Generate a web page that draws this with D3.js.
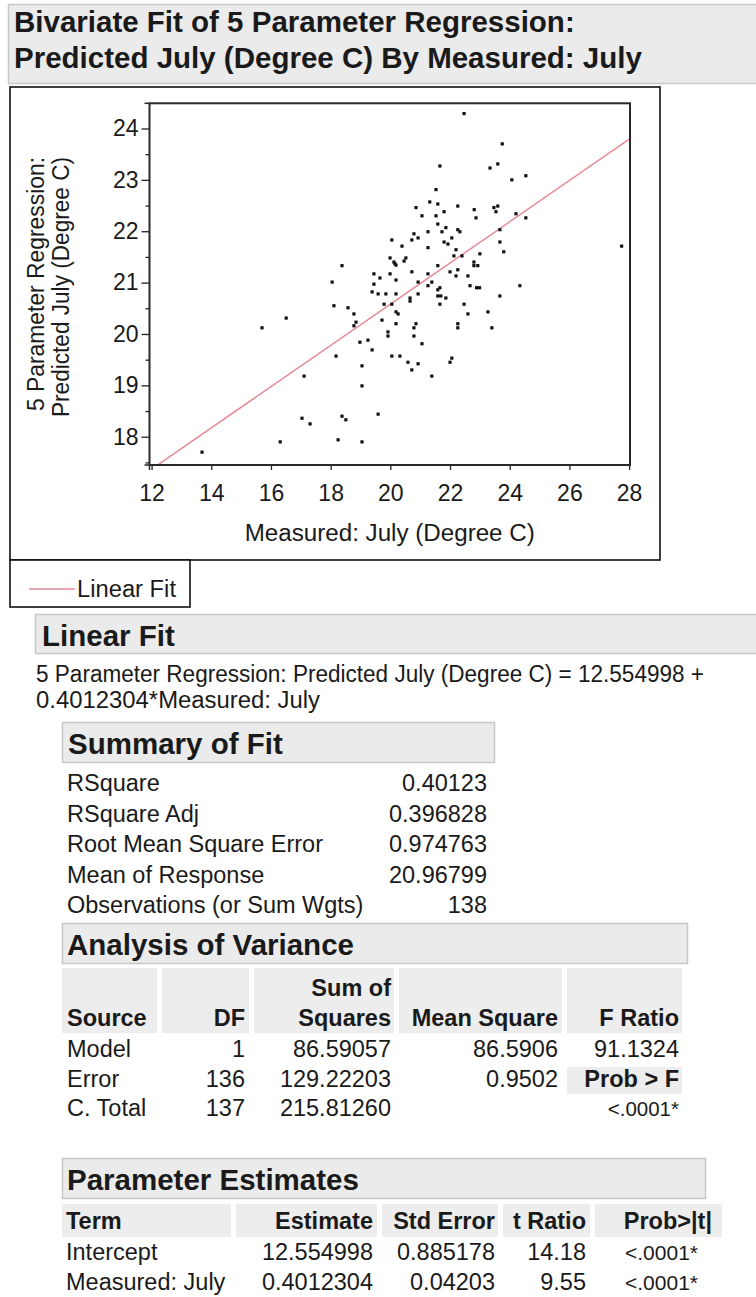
<!DOCTYPE html>
<html><head><meta charset="utf-8">
<script src="https://cdn.jsdelivr.net/npm/d3@7"></script>
<style>
body{margin:0;background:#fff}
svg{display:block}
text{font-family:"Liberation Sans",Arial,Helvetica,sans-serif}
</style>
</head><body>
<svg id="c" width="756" height="1297"></svg>
<script>
// ---------- data ----------
const measured = [22.47,23.75,21.66,23.34,23.60,24.07,24.54,21.53,20.86,21.32,
21.59,21.06,21.53,21.80,22.26,22.81,22.87,23.47,23.60,23.54,
24.21,24.54,21.59,21.86,21.73,22.26,22.33,21.26,20.79,20.93,
20.72,20.05,20.39,21.26,21.80,21.93,22.06,23.67,23.67,23.80,
22.20,22.13,22.40,23.00,27.75,19.99,20.52,20.12,20.19,20.46,
21.59,22.80,22.80,22.93,20.72,19.99,19.65,20.19,21.26,22.00,
22.26,22.20,22.60,20.93,21.39,21.26,21.66,21.59,22.67,22.89,
22.99,24.34,18.38,18.05,19.45,19.45,19.39,19.59,19.85,20.19,
20.66,20.66,20.93,21.59,21.69,21.86,23.67,19.79,20.05,21.66,
22.47,20.19,20.26,22.60,23.27,18.11,18.58,18.78,18.85,18.78,
19.72,20.19,19.92,19.92,20.86,20.79,20.79,22.26,22.26,23.40,
18.98,19.25,21.06,16.51,15.70,19.39,18.18,20.05,20.32,20.59,
20.93,20.72,21.39,22.06,22.00,19.05,19.05,17.11,17.04,17.31,
18.38,18.51,19.59,16.31,18.25,19.05,13.69,20.15];
const predicted = [24.29,23.70,23.27,23.23,23.31,23.00,23.08,22.81,22.46,22.57,
22.53,22.30,22.30,22.38,22.49,22.42,22.26,22.46,22.49,22.38,
22.34,22.26,22.14,22.07,21.99,22.03,21.99,21.99,21.95,21.87,
21.83,21.83,21.71,21.68,21.79,21.75,21.87,22.03,21.79,21.60,
21.64,21.52,21.52,21.56,21.71,21.48,21.48,21.40,21.34,21.42,
21.33,21.40,21.33,21.33,21.21,21.17,21.09,21.05,21.17,21.21,
21.25,21.13,21.13,21.01,21.01,20.94,20.90,20.86,20.94,20.90,
20.90,20.94,21.33,21.01,21.17,20.97,20.82,20.78,20.78,20.78,
20.70,20.64,20.78,20.74,20.74,20.70,20.74,20.58,20.58,20.58,
20.58,20.43,20.39,20.39,20.43,20.55,20.51,20.39,20.23,20.16,
20.27,20.20,20.04,19.96,20.20,20.12,19.96,20.20,20.12,20.12,
19.84,19.88,19.81,20.31,20.12,19.69,19.57,19.57,19.57,19.45,
19.42,19.30,19.18,19.53,19.45,19.38,18.99,19.18,18.36,18.25,
18.40,18.33,18.44,17.90,17.94,17.90,17.70,21.37];
const xTickValues = [12,14,16,18,20,22,24,26,28];
const yTickValues = [18,19,20,21,22,23,24];
const yMinorTickValues = [17.5,18.5,19.5,20.5,21.5,22.5,23.5];
const fitIntercept = 12.554998;
const fitSlope = 0.4012304;

const titleLines = ["Bivariate Fit of 5 Parameter Regression:", "Predicted July (Degree C) By Measured: July"];
const xAxisTitle = "Measured: July (Degree C)";
const yAxisTitleLines = ["5 Parameter Regression:", "Predicted July (Degree C)"];
const legendLabel = "Linear Fit";
const equationLines = ["5 Parameter Regression: Predicted July (Degree C) = 12.554998 +", "0.4012304*Measured: July"];

const summaryLabels = ["RSquare","RSquare Adj","Root Mean Square Error","Mean of Response","Observations (or Sum Wgts)"];
const summaryValues = ["0.40123","0.396828","0.974763","20.96799","138"];

const anovaHeaders = ["Source","DF","Squares","Mean Square","F Ratio"];
const anovaSource = ["Model","Error","C. Total"];
const anovaDF = ["1","136","137"];
const anovaSS = ["86.59057","129.22203","215.81260"];
const anovaMS = ["86.5906","0.9502",""];
const anovaF = ["91.1324","Prob > F","<.0001*"];

const paramHeaders = ["Term","Estimate","Std Error","t Ratio","Prob>|t|"];
const paramTerms = ["Intercept","Measured: July"];
const paramEstimate = ["12.554998","0.4012304"];
const paramStdErr = ["0.885178","0.04203"];
const paramT = ["14.18","9.55"];
const paramProb = ["<.0001*","<.0001*"];

// ---------- helpers ----------
const svg = d3.select("#c");
const INK = "#1a1a1a";
const REG = 23.5;
function txt(g, x, y, s, o = {}) {
  const t = g.append("text").attr("x", x).attr("y", y).text(s)
    .attr("font-size", o.size || REG)
    .attr("font-weight", o.bold ? "bold" : "normal")
    .attr("text-anchor", o.anchor || "start")
    .attr("fill", o.fill || INK);
  if (o.len) t.attr("textLength", o.len).attr("lengthAdjust", "spacingAndGlyphs");
  return t;
}
function box(x, y, w, h, fill, stroke, sw) {
  return svg.append("rect").attr("x", x).attr("y", y).attr("width", w).attr("height", h)
    .attr("fill", fill).attr("stroke", stroke || "none").attr("stroke-width", sw || 1);
}
const HDR_FILL = "#ebebeb", HDR_STROKE = "#c8c8c8", CELL_FILL = "#ededed";

// ---------- title ----------
box(8.5, 4.5, 760, 79, HDR_FILL, HDR_STROKE, 1.5);
txt(svg, 14, 32, titleLines[0], {bold: true, size: 29.5});
txt(svg, 14, 68, titleLines[1], {bold: true, size: 29.5});

// ---------- plot frame ----------
box(10, 87, 650, 473, "#fff", "#111", 1.6);
box(10, 560, 180, 47, "#fff", "#111", 1.6);

const x = d3.scaleLinear().domain([11.93, 28.03]).range([149.5, 630]);
const y = d3.scaleLinear().domain([17.45, 24.49]).range([465, 103.3]);
const gPlot = svg.append("g");

// fit line (clipped)
svg.append("clipPath").attr("id", "clip").append("rect")
  .attr("x", x.range()[0]).attr("y", y.range()[1])
  .attr("width", x.range()[1] - x.range()[0]).attr("height", y.range()[0] - y.range()[1]);
const xd = x.domain();
gPlot.append("line").attr("clip-path", "url(#clip)")
  .attr("x1", x(xd[0])).attr("y1", y(fitIntercept + fitSlope * xd[0]))
  .attr("x2", x(xd[1])).attr("y2", y(fitIntercept + fitSlope * xd[1]))
  .attr("stroke", "#e58a93").attr("stroke-width", 1.5);

// points
const pts = measured.map((m, i) => [m, predicted[i]]);
gPlot.selectAll("rect.pt").data(pts).join("rect").attr("class", "pt")
  .attr("x", d => x(d[0]) - 1.6).attr("y", d => y(d[1]) - 1.6)
  .attr("width", 3.2).attr("height", 3.2).attr("fill", "#111");

// axes
const yAxis = d3.axisLeft(y).tickValues(yTickValues).tickSize(8).tickPadding(3).tickFormat(d3.format("d"));
const gy = svg.append("g").attr("transform", `translate(${x.range()[0]},0)`).call(yAxis);
const gyMinor = svg.append("g").attr("transform", `translate(${x.range()[0]},0)`)
  .call(d3.axisLeft(y).tickValues(yMinorTickValues).tickSize(4).tickFormat(""));
const xAxis = d3.axisBottom(x).tickValues(xTickValues).tickSize(5).tickPadding(15).tickFormat(d3.format("d"));
const gx = svg.append("g").attr("transform", `translate(0,${y.range()[0]})`).call(xAxis);
[gy, gyMinor, gx].forEach(g => {
  g.select(".domain").remove();
  g.selectAll(".tick line").attr("stroke", "#222").attr("stroke-width", 1.3);
  g.selectAll(".tick text").attr("font-size", 23).attr("fill", INK)
    .attr("font-family", '"Liberation Sans",Arial,sans-serif');
});
// plot border (with small overhang at the corner like the original)
box(x.range()[0], y.range()[1], x.range()[1] - x.range()[0], y.range()[0] - y.range()[1], "none", "#2a2a2a", 2);
svg.append("line").attr("x1", x.range()[0] - 5).attr("x2", x.range()[0]).attr("y1", y.range()[1]).attr("y2", y.range()[1]).attr("stroke", "#2a2a2a").attr("stroke-width", 1.5);
svg.append("line").attr("x1", x.range()[0] - 5).attr("x2", x.range()[0]).attr("y1", y.range()[0]).attr("y2", y.range()[0]).attr("stroke", "#2a2a2a").attr("stroke-width", 1.5);
svg.append("line").attr("x1", x.range()[0]).attr("x2", x.range()[0]).attr("y1", y.range()[0]).attr("y2", y.range()[0] + 5).attr("stroke", "#2a2a2a").attr("stroke-width", 1.5);

// axis titles
txt(svg, (x.range()[0] + x.range()[1]) / 2, 541, xAxisTitle, {anchor: "middle", size: 23, len: 290});
txt(svg, 0, 0, yAxisTitleLines[0], {anchor: "middle", size: 23, len: 254}).attr("transform", "translate(44,284) rotate(-90)");
txt(svg, 0, 0, yAxisTitleLines[1], {anchor: "middle", size: 23, len: 260}).attr("transform", "translate(69,287) rotate(-90)");

// legend
svg.append("line").attr("x1", 29).attr("x2", 75).attr("y1", 589).attr("y2", 589).attr("stroke", "#e58a93").attr("stroke-width", 1.5);
txt(svg, 77, 597, legendLabel, {size: 23, len: 99});

// ---------- Linear Fit ----------
box(35.5, 614.5, 730, 39, HDR_FILL, HDR_STROKE, 1.5);
txt(svg, 42, 646, "Linear Fit", {bold: true, size: 29.5});
txt(svg, 36, 682, equationLines[0], {len: 668});
txt(svg, 36, 708, equationLines[1], {len: 284});

// ---------- Summary of Fit ----------
box(62.5, 722.5, 432, 40, HDR_FILL, HDR_STROKE, 1.5);
txt(svg, 68, 754, "Summary of Fit", {bold: true, size: 29.5});
summaryLabels.forEach((s, i) => {
  const yy = 791 + i * 30.5;
  txt(svg, 67, yy, s);
  txt(svg, 487, yy, summaryValues[i], {anchor: "end"});
});

// ---------- Analysis of Variance ----------
box(62.5, 923.5, 625, 40, HDR_FILL, HDR_STROKE, 1.5);
txt(svg, 67, 955, "Analysis of Variance", {bold: true, size: 29.5});
const anovaCells = [[62, 157], [162, 249], [254, 394], [399, 562], [567, 682]];
anovaCells.forEach(c => box(c[0], 968, c[1] - c[0], 65, CELL_FILL));
const anovaRight = [null, 245, 391, 558, 679];
txt(svg, 391, 996, "Sum of", {bold: true, anchor: "end"});
anovaHeaders.forEach((h, i) => {
  if (i === 0) txt(svg, 67, 1026, h, {bold: true});
  else txt(svg, anovaRight[i], 1026, h, {bold: true, anchor: "end"});
});
box(567, 1067, 115, 27, CELL_FILL);
anovaSource.forEach((s, i) => {
  const yy = 1057 + i * 29.5;
  txt(svg, 67, yy, s);
  txt(svg, 245, yy, anovaDF[i], {anchor: "end"});
  txt(svg, 391, yy, anovaSS[i], {anchor: "end"});
  if (anovaMS[i]) txt(svg, 558, yy, anovaMS[i], {anchor: "end"});
  txt(svg, 679, yy, anovaF[i], {anchor: "end", bold: i === 1, size: i === 2 ? 20.5 : REG});
});

// ---------- Parameter Estimates ----------
box(62.5, 1158.5, 643, 40, HDR_FILL, HDR_STROKE, 1.5);
txt(svg, 67, 1190, "Parameter Estimates", {bold: true, size: 29.5});
const paramCells = [[62, 231], [236, 377], [382, 498], [503, 590], [595, 722]];
paramCells.forEach(c => box(c[0], 1204, c[1] - c[0], 33, CELL_FILL));
const paramRight = [null, 373, 495, 586, 712];
paramHeaders.forEach((h, i) => {
  if (i === 0) txt(svg, 66, 1229, h, {bold: true});
  else txt(svg, paramRight[i], 1229, h, {bold: true, anchor: "end"});
});
paramTerms.forEach((t, i) => {
  const yy = 1260 + i * 30;
  txt(svg, 66, yy, t);
  txt(svg, 373, yy, paramEstimate[i], {anchor: "end"});
  txt(svg, 495, yy, paramStdErr[i], {anchor: "end"});
  txt(svg, 586, yy, paramT[i], {anchor: "end"});
  txt(svg, 698, yy, paramProb[i], {anchor: "end", size: 21});
});
</script>
</body></html>
